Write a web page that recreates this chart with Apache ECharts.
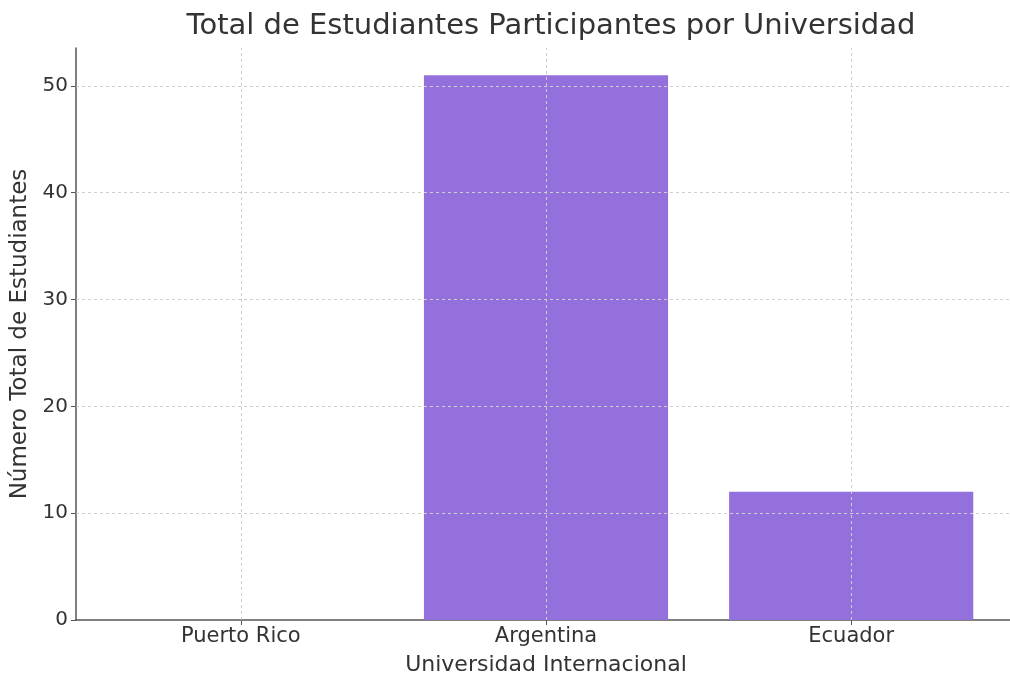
<!DOCTYPE html>
<html><head><meta charset="utf-8">
<script src="https://cdn.jsdelivr.net/npm/echarts@6/dist/echarts.min.js"></script>
<style>html,body{margin:0;padding:0;background:#fff;overflow:hidden}#c{width:1030px;height:682px}</style>
</head><body><div id="c"></div>
<script>
const categories = ["Puerto Rico", "Argentina", "Ecuador"];
const values = [0, 51, 12];
const yTicks = [0, 10, 20, 30, 40, 50];
const titleText = "Total de Estudiantes Participantes por Universidad";
const xName = "Universidad Internacional";
const yName = "Número Total de Estudiantes";

const font = "DejaVu Sans";
const chart = echarts.init(document.getElementById('c'));
const idx = categories.map((_, i) => i);
const gridStyle = {color: '#cfcfcf', type: [3, 3], width: 1};
chart.setOption({
  animation: false,
  title: {text: titleText, left: 546, textAlign: 'center', top: 7,
    textStyle: {fontFamily: font, fontSize: 29, fontWeight: 'normal', color: '#333'}},
  grid: {left: 76, width: 940, top: 48, bottom: 62, containLabel: false},
  xAxis: {
    type: 'value', min: -0.54, max: 2.54,
    name: xName, nameLocation: 'middle', nameGap: 34,
    nameTextStyle: {fontFamily: font, fontSize: 22, color: '#333'},
    axisLine: {show: true, lineStyle: {color: '#555', width: 1.5}},
    axisTick: {show: true, length: 5, customValues: idx, lineStyle: {color: '#555'}},
    axisLabel: {customValues: idx, fontFamily: font, fontSize: 21, color: '#333', margin: 6,
      formatter: v => categories[Math.round(v)] || ''},
    splitLine: {show: false}
  },
  yAxis: {
    type: 'value', min: 0, max: 53.55, interval: 10,
    name: yName, nameLocation: 'middle', nameGap: 43,
    nameTextStyle: {fontFamily: font, fontSize: 23, color: '#333'},
    axisLine: {show: true, onZero: false, lineStyle: {color: '#555', width: 1.5}},
    axisTick: {show: true, length: 5, customValues: yTicks, lineStyle: {color: '#555'}},
    axisLabel: {customValues: yTicks, fontFamily: font, fontSize: 20, color: '#333', margin: 8},
    splitLine: {show: false}
  },
  series: [{
    type: 'bar', barWidth: '80%',
    data: values.map((v, i) => [i, v]),
    itemStyle: {color: '#9370DB'},
    markLine: {
      silent: true, symbol: 'none', label: {show: false},
      lineStyle: gridStyle,
      data: idx.map(i => ({xAxis: i})).concat(yTicks.slice(1).map(t => ({yAxis: t})))
    }
  }]
});
</script></body></html>
